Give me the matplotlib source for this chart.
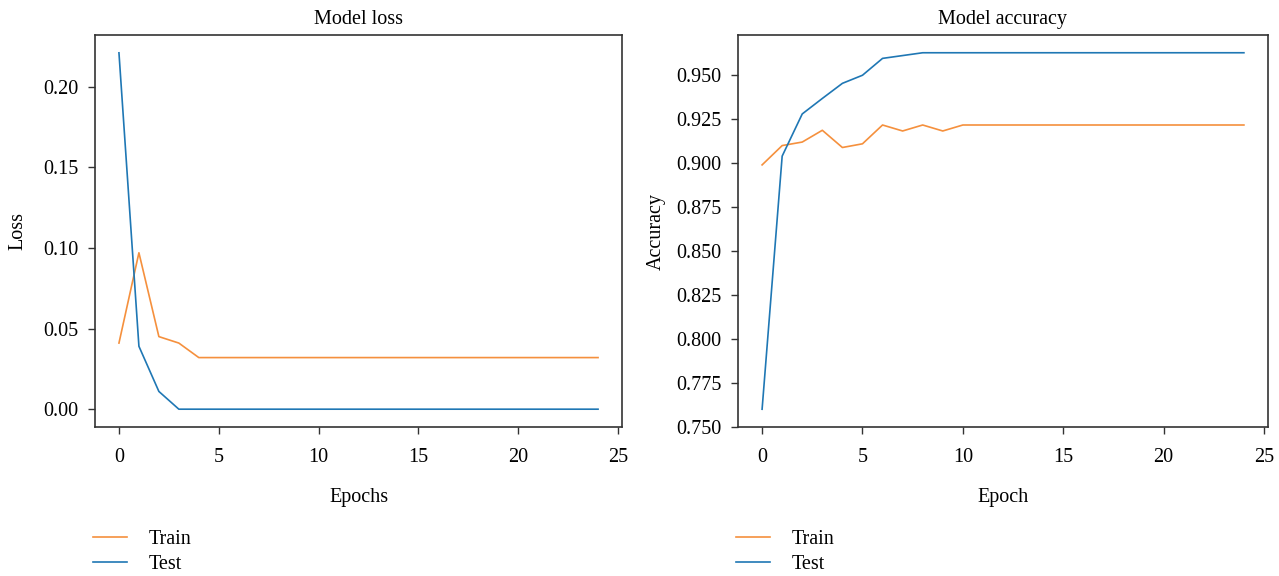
import matplotlib
matplotlib.use('Agg')
import matplotlib.pyplot as plt
import numpy as np

# data
epochs = np.arange(25)
loss_train = [0.041, 0.097, 0.045, 0.041, 0.032] + [0.032] * 20
loss_test = [0.221, 0.039, 0.011, 0.0, 0.0] + [0.0] * 20
acc_train = [0.899, 0.910, 0.912, 0.9187, 0.9089, 0.911, 0.9217, 0.9183,
             0.9217, 0.9183, 0.9217] + [0.9217] * 14
acc_test = [0.760, 0.904, 0.928, 0.9368, 0.9454, 0.950, 0.9596, 0.9612,
            0.9628] + [0.9628] * 16

c_train = '#f5903d'
c_test = '#1f77b4'
fs = 14.5

plt.rcParams['font.family'] = ['Liberation Serif', 'DejaVu Serif']
plt.rcParams['font.size'] = fs

fig = plt.figure(figsize=(12.79, 5.76), dpi=100)
ax1 = fig.add_axes([95 / 1279, 1 - 427 / 576, 527 / 1279, 392 / 576])
ax2 = fig.add_axes([738 / 1279, 1 - 427 / 576, 530 / 1279, 392 / 576])

panels = [
    (ax1, loss_train, loss_test, 'Model loss', 'Loss', 'Epochs', 11),
    (ax2, acc_train, acc_test, 'Model accuracy', 'Accuracy', 'Epoch', 7),
]

for ax, tr, te, title, ylab, xlab, ypad in panels:
    ax.plot(epochs, tr, color=c_train, lw=1.2, label='Train')
    ax.plot(epochs, te, color=c_test, lw=1.2, label='Test')
    ax.set_title(title, fontsize=fs, pad=8)
    ax.set_ylabel(ylab, fontsize=fs, labelpad=ypad)
    ax.set_xlabel(xlab, fontsize=fs, labelpad=15)
    ax.set_xticks([0, 5, 10, 15, 20, 25])
    ax.tick_params(direction='out', length=5, width=1, labelsize=fs,
                   color='#333333')
    ax.tick_params(axis='x', pad=10)
    ax.tick_params(axis='y', pad=7)
    for s in ax.spines.values():
        s.set_color('#333333')
        s.set_linewidth(1.2)
    ax.legend(loc='upper left', bbox_to_anchor=(-0.003, -0.262), frameon=False,
              handlelength=1.65, handletextpad=1.1, labelspacing=0.3,
              borderaxespad=0, borderpad=0, fontsize=fs)

ax2.set_ylim(0.7499, 0.9729)

fig.savefig('out.png', dpi=100)
